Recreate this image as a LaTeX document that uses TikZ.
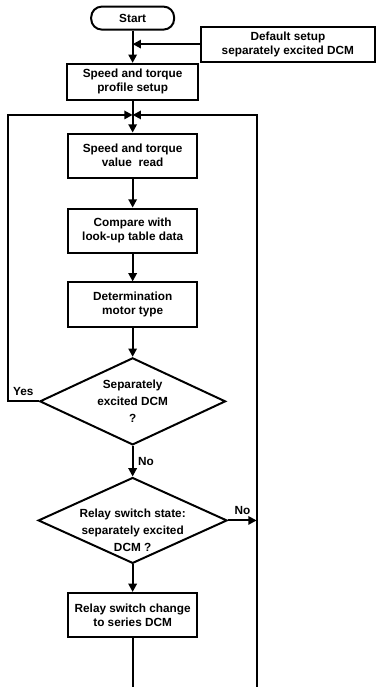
\documentclass[tikz,border=0pt]{standalone}
\usepackage{fontspec}
\setmainfont{Liberation Sans}
\usetikzlibrary{arrows.meta, shapes.geometric}
\tikzset{
  every picture/.style={font=\bfseries\fontsize{8.9}{10.5}\selectfont, line width=1.5pt},
  box/.style={draw, rectangle, align=center, minimum width=3.42cm, minimum height=1.17cm, inner sep=2pt},
  term/.style={draw, rectangle, rounded corners=8pt, minimum width=2.2cm, minimum height=0.61cm, inner sep=1pt},
  decision/.style={draw, diamond, align=center, aspect=2.2, inner xsep=0pt, inner ysep=-5pt, font=\bfseries\fontsize{8.9}{12.8}\selectfont},
  arrow/.style={-{Triangle[length=2.2mm, width=2.2mm]}},
}

\begin{document}
\begin{tikzpicture}
  \useasboundingbox (0,0) rectangle (10,-18.23);
  % main column
  \node[term] (start) at (3.52,-0.48) {Start};
  \node[box, minimum width=4.62cm, minimum height=0.93cm] (default) at (7.64,-1.17) {Default setup\\separately excited DCM};
  \node[box, minimum width=3.47cm, minimum height=0.95cm] (profile) at (3.52,-2.17) {Speed and torque\\profile setup};
  \coordinate (join) at (3.52,-3.05);
  \node[box] (read) at (3.52,-4.13) {Speed and torque\\value\ \ read};
  \node[box] (compare) at (3.52,-6.12) {Compare with\\look-up table data};
  \node[box] (motor) at (3.52,-8.08) {Determination\\motor type};
  \node[decision, minimum width=4.93cm, minimum height=2.31cm] (sep) at (3.52,-10.65) {Separately\\excited DCM\\?};
  \node[decision, minimum width=4.96cm, minimum height=2.17cm] (state) at (3.52,-13.81)
    {\raisebox{-0.29cm}[\height][\depth]{\begin{tabular}{@{}c@{}}Relay switch state:\\separately excited\\DCM ?\end{tabular}}};
  \node[box] (change) at (3.52,-16.32) {Relay switch change\\to series DCM};
  % loop corners and open ends
  \coordinate (loopL) at (0.21,-3.05);
  \coordinate (loopR) at (6.81,-3.05);
  \coordinate (endL) at (3.52,-18.23);
  \coordinate (endR) at (6.81,-18.23);

  \draw[arrow] (start) -- (profile);
  \draw[arrow] (default.west) -- (default.west -| start);
  \draw (profile) -- (join);
  \draw[arrow] (join) -- (read);
  \draw[arrow] (read) -- (compare);
  \draw[arrow] (compare) -- (motor);
  \draw[arrow] (motor) -- (sep);
  \draw[arrow] (sep.west) -- node[above] {Yes} (sep.west -| loopL) -- (loopL) -- (join);
  \draw[arrow] (sep.south) -- node[right] {No} (state.north);
  \draw[arrow] (state.east) -- node[above] {No} (state.east -| loopR);
  \draw[arrow] (state.south) -- (change.north);
  \draw (change) -- (endL);
  \draw[arrow] (endR) -- (loopR) -- (join);
\end{tikzpicture}
\end{document}
